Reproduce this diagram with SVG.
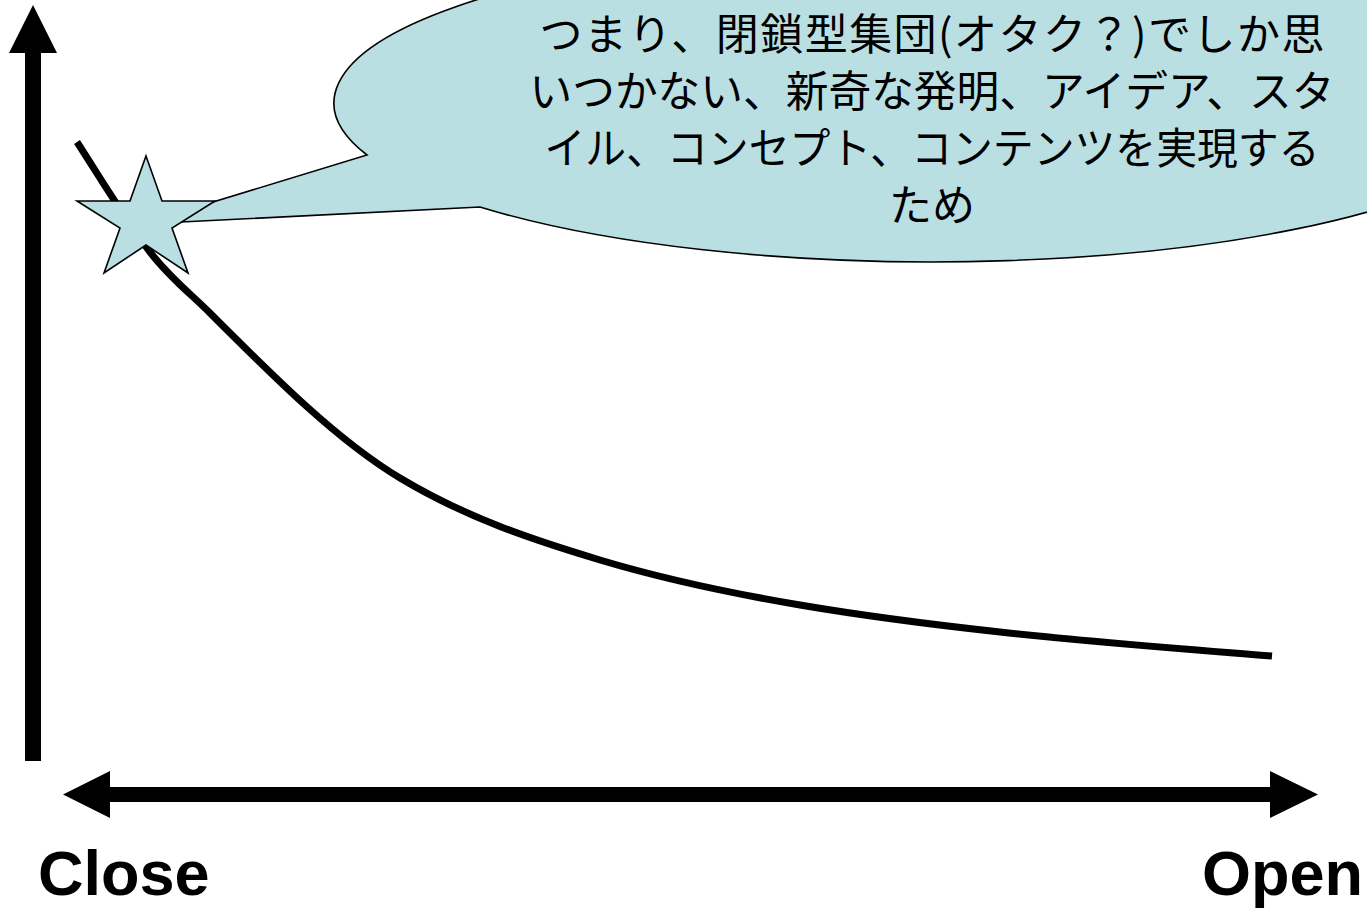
<svg xmlns="http://www.w3.org/2000/svg" width="1367" height="909" viewBox="0 0 1367 909">
<style>
.ax{fill:#000}
.shape{fill:#BADFE3;stroke:#000;stroke-width:1.6;stroke-linejoin:miter}
.jp{font-family:"Noto Sans CJK JP","Noto Sans",sans-serif;font-size:43px;fill:#000;text-anchor:middle}
.lbl{font-family:"Liberation Sans",Arial,sans-serif;font-weight:bold;font-size:63px;fill:#000}
</style>
<rect width="1367" height="909" fill="#fff"/>
<g id="connectors">
<g id="y-axis">
<rect class="ax" x="25" y="52" width="16" height="709"/>
<polygon class="ax" points="33,5 57,53 9,53"/>
</g>
<g id="x-axis">
<rect class="ax" x="108" y="787" width="1164" height="15"/>
<polygon class="ax" points="63,794.5 110,771 110,818"/>
<polygon class="ax" points="1318,794.5 1270,771 1270,818"/>
</g>
<path id="curve" fill="none" stroke="#000" stroke-width="7" d="M77,142 C101.3,179.7 125.7,220.4 150,252 C170,278 190,293 210,313 C273.3,376.3 336.7,440 400,478 C466.7,518 533.3,540 600,560 C666.7,580 733.3,593.7 800,605 C866.7,616.3 933.3,624.7 1000,632 C1090.7,642 1181.3,648.7 1272,656"/>
</g>
<g id="callout">
<path class="shape" d="M480,207 L141,224 L367,155 A598,159 0 1 1 480,207 Z"/>
<text class="jp" x="932" y="50" textLength="785" lengthAdjust="spacing">つまり、閉鎖型集団(オタク？)でしか思</text>
<text class="jp" x="932" y="107" textLength="805" lengthAdjust="spacingAndGlyphs">いつかない、新奇な発明、アイデア、スタ</text>
<text class="jp" x="932" y="164" textLength="775" lengthAdjust="spacingAndGlyphs">イル、コンセプト、コンテンツを実現する</text>
<text class="jp" x="932" y="221">ため</text>
</g>
<g id="star">
<polygon class="shape" points="146,156 162,201 215,201 172,228 188,273 146,245 104,273 120,228 77,201 130,201"/>
</g>
<g id="label-close">
<text class="lbl" x="38" y="895">Close</text>
</g>
<g id="label-open">
<text class="lbl" x="1202" y="895">Open</text>
</g>
</svg>
